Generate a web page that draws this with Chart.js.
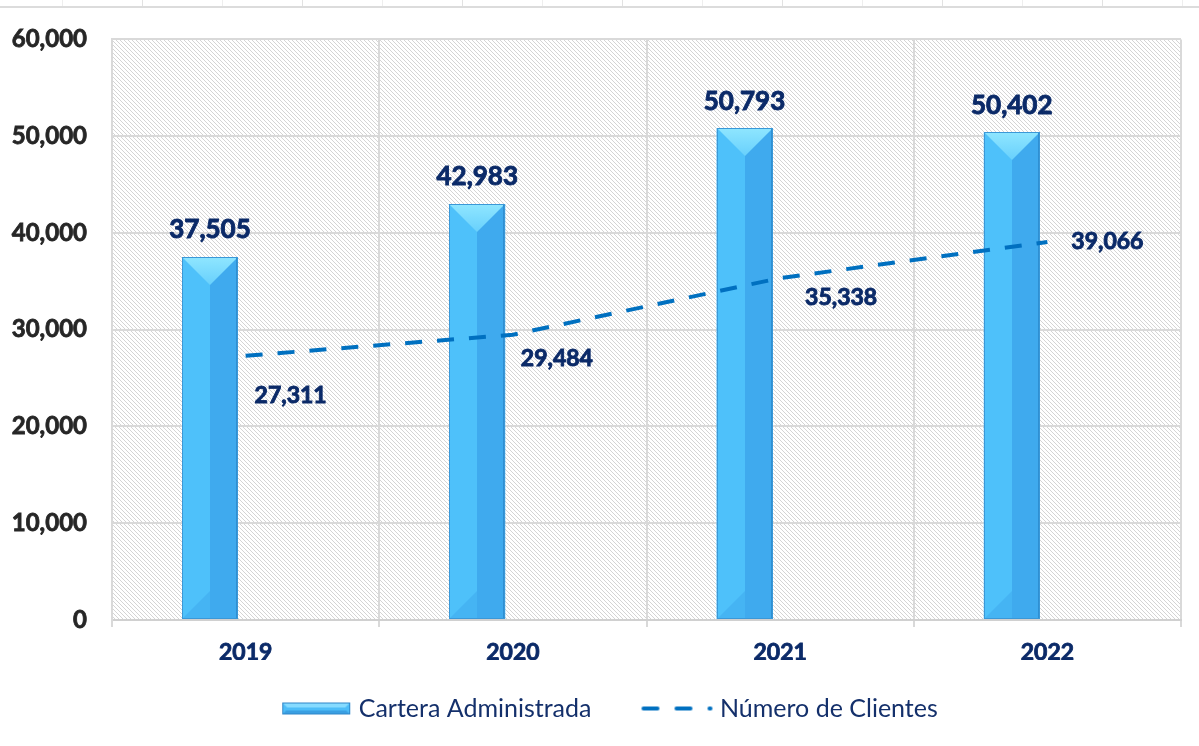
<!DOCTYPE html>
<html><head><meta charset="utf-8">
<script src="https://cdn.jsdelivr.net/npm/chart.js@4.4.0/dist/chart.umd.min.js"></script>
<style>html,body{margin:0;padding:0;background:#fff}#wrap{width:1199px;height:746px;position:relative}</style>
</head><body><div id="wrap"><canvas id="c" width="1199" height="746"></canvas></div>
<script>
// ---- data ----
const categories = ['2019', '2020', '2021', '2022'];
const carteraAdministrada = [37505, 42983, 50793, 50402];
const numeroClientes = [27311, 29484, 35338, 39066];
const yTickValues = [0, 10000, 20000, 30000, 40000, 50000, 60000];
const seriesNames = ['Cartera Administrada', 'Número de Clientes'];

const fmt = v => Number(v).toLocaleString('en-US');
const NAVY = '#0B2A68';

// hatch pattern for plot area
function makeHatch() {
  const c = document.createElement('canvas'); c.width = 8; c.height = 8;
  const g = c.getContext('2d'); const img = g.createImageData(8, 8);
  for (let y = 0; y < 8; y++) for (let x = 0; x < 8; x++) {
    const i = (y * 8 + x) * 4; const on = ((x - y + 8) % 4 === 0);
    const v = on ? 212 : 255;
    img.data[i] = v; img.data[i + 1] = v; img.data[i + 2] = v; img.data[i + 3] = 255;
  }
  g.putImageData(img, 0, 0); return c;
}
const hatch = makeHatch();

function poly(ctx, pts, fill) {
  ctx.beginPath(); ctx.moveTo(pts[0][0], pts[0][1]);
  for (let i = 1; i < pts.length; i++) ctx.lineTo(pts[i][0], pts[i][1]);
  ctx.closePath(); ctx.fillStyle = fill; ctx.fill();
}

function drawBevelBar(ctx, x0, x1, yt, yb) {
  const w = x1 - x0, xm = (x0 + x1) / 2, d = Math.min(w / 2, (yb - yt) / 2);
  ctx.fillStyle = '#4EC1FA'; ctx.fillRect(x0, yt, xm - x0, yb - yt);
  ctx.fillStyle = '#3FAAEE'; ctx.fillRect(xm, yt, x1 - xm, yb - yt);
  poly(ctx, [[x0, yb], [xm, yb - d], [xm, yb]], '#45B4F3');
  const gr = ctx.createLinearGradient(0, yt, 0, yt + d);
  gr.addColorStop(0, '#8FE6FF'); gr.addColorStop(1, '#68D0FC');
  poly(ctx, [[x0, yt], [x1, yt], [xm, yt + d]], gr);
  ctx.fillStyle = '#2F8FD2'; ctx.fillRect(x1 - 2, yt, 2, yb - yt);
  ctx.strokeStyle = '#3A98D8'; ctx.lineWidth = 1;
  ctx.strokeRect(x0 + 0.5, yt + 0.5, w - 1, yb - yt - 1);
}

// legend swatches
const BOXW = 80, EXT = 6;
function makeBarSwatch() {
  const c = document.createElement('canvas'); c.width = BOXW + 2 * EXT; c.height = 16;
  const g = c.getContext('2d');
  const x1 = BOXW + EXT + 4, x0 = x1 - 68, y0 = 2, y1 = 14;
  g.fillStyle = '#4DBDF8'; g.fillRect(x0, y0, x1 - x0, y1 - y0);
  poly(g, [[x0, y0], [x1, y0], [x1 - 5, y0 + 5], [x0 + 5, y0 + 5]], '#86DBFF');
  poly(g, [[x0, y1], [x1, y1], [x1 - 4, y1 - 4], [x0 + 4, y1 - 4]], '#3A9FE2');
  g.strokeStyle = '#2F86C8'; g.lineWidth = 1; g.strokeRect(x0 + 0.5, y0 + 0.5, x1 - x0 - 1, y1 - y0 - 1);
  return c;
}
function makeDashSwatch() {
  const c = document.createElement('canvas'); c.width = BOXW + 2 * EXT; c.height = 16;
  const g = c.getContext('2d');
  const x1 = BOXW + EXT + 5, x0 = x1 - 71;
  g.fillStyle = '#0070C0';
  const r = (x, w) => { g.beginPath(); g.roundRect ? g.roundRect(x, 6, w, 4, 2) : g.rect(x, 6, w, 4); g.fill(); };
  r(x0, 18); r(x0 + 33, 18); r(x0 + 66, 5);
  return c;
}
const barSwatch = makeBarSwatch();
const dashSwatch = makeDashSwatch();

const bgPlugin = {
  id: 'bg',
  afterLayout(chart) {
    // shift the centred legend slightly right, as in the reference
    if (chart.legend) { chart.legend.left += 23; chart.legend.width -= 23; }
  },
  beforeDraw(chart) {
    const { ctx, chartArea: a } = chart;
    ctx.save();
    ctx.fillStyle = '#fff'; ctx.fillRect(0, 0, chart.width, chart.height);
    ctx.strokeStyle = '#DCDCDC'; ctx.lineWidth = 2;
    ctx.beginPath(); ctx.moveTo(0, 7); ctx.lineTo(chart.width, 7); ctx.stroke();
    ctx.lineWidth = 1;
    for (let x = 62, k = 0; x < chart.width; x += 80, k++) {
      ctx.strokeStyle = k % 2 ? '#E2E2E2' : '#EEEEEE';
      ctx.beginPath(); ctx.moveTo(x + 0.5, 0); ctx.lineTo(x + 0.5, 6); ctx.stroke();
    }
    ctx.fillStyle = ctx.createPattern(hatch, 'repeat');
    ctx.fillRect(a.left, a.top, a.width, a.height);
    ctx.restore();
  }
};

const bevelPlugin = {
  id: 'bevel',
  afterDatasetDraw(chart, args) {
    if (args.index !== 0) return;
    const ctx = chart.ctx; ctx.save();
    args.meta.data.forEach(el => {
      const p = el.getProps(['x', 'y', 'base', 'width'], true);
      drawBevelBar(ctx, Math.round(p.x - p.width / 2), Math.round(p.x + p.width / 2), Math.round(p.y), Math.round(p.base));
    });
    ctx.restore();
  }
};

function boldText(ctx, t, x, y) {
  ctx.fillText(t, x, y); ctx.strokeText(t, x, y);
}

const labelPlugin = {
  id: 'vlabels',
  afterDatasetsDraw(chart, args, opts) {
    const ctx = chart.ctx; ctx.save();
    ctx.fillStyle = NAVY; ctx.strokeStyle = NAVY; ctx.lineWidth = 0.9;
    ctx.textAlign = 'center'; ctx.textBaseline = 'middle';
    ctx.font = 'bold 26px Lato';
    chart.getDatasetMeta(0).data.forEach((el, i) => {
      boldText(ctx, fmt(carteraAdministrada[i]), el.x, el.y - opts.barGap);
    });
    ctx.font = 'bold 23px Lato';
    chart.getDatasetMeta(2).data.forEach((el, i) => {
      const o = opts.lineOffsets[i];
      boldText(ctx, fmt(numeroClientes[i]), el.x + o[0], el.y + o[1]);
    });
    ctx.restore();
  }
};

const GRID = '#D9D9D9';
new Chart(document.getElementById('c'), {
  data: {
    labels: categories,
    datasets: [
      { type: 'bar', label: seriesNames[0], data: carteraAdministrada, backgroundColor: '#48B9F6', borderWidth: 0,
        barPercentage: 0.786, categoryPercentage: 0.533, order: 2 },
      { type: 'bar', label: '', data: [null, null, null, null], backgroundColor: 'transparent',
        barPercentage: 0.786, categoryPercentage: 0.533, order: 3 },
      { type: 'line', label: seriesNames[1], data: numeroClientes, borderColor: '#0070C0', borderWidth: 4,
        borderDash: [17, 15], pointRadius: 0, pointHoverRadius: 0, fill: false, tension: 0, order: 1 }
    ]
  },
  options: {
    responsive: false, animation: false, devicePixelRatio: 1,
    layout: { padding: { top: 38, right: 18, bottom: 15, left: 0 } },
    scales: {
      x: {
        grid: { color: GRID, lineWidth: 2, drawTicks: true, tickLength: 7, offset: true },
        border: { color: '#D0D0D0', width: 2 },
        ticks: { color: NAVY, font: { family: 'Lato', weight: 'bold', size: 23 }, padding: 12,
          textStrokeColor: NAVY, textStrokeWidth: 0.8 },
        afterFit(s) { s.height = 40; }
      },
      y: {
        min: 0, max: 60000,
        grid: { color: GRID, lineWidth: 2, drawTicks: false },
        border: { color: GRID, width: 2 },
        ticks: { color: '#262626', font: { family: 'Lato', weight: 'bold', size: 24 }, padding: 25,
          textStrokeColor: '#262626', textStrokeWidth: 0.8,
          callback: v => fmt(v) },
        afterBuildTicks(s) { s.ticks = yTickValues.map(v => ({ value: v })); },
        afterFit(s) { s.width = 112; }
      }
    },
    plugins: {
      tooltip: { enabled: false },
      legend: {
        position: 'bottom',
        labels: {
          usePointStyle: true, pointStyleWidth: BOXW, boxHeight: 16, padding: 36,
          color: '#14306B', font: { family: 'Lato', size: 25 },
          generateLabels: () => [
            { text: seriesNames[0], pointStyle: barSwatch, fillStyle: 'transparent', strokeStyle: 'transparent', lineWidth: 0, fontColor: '#14306B', datasetIndex: 0, hidden: false },
            { text: seriesNames[1], pointStyle: dashSwatch, fillStyle: 'transparent', strokeStyle: 'transparent', lineWidth: 0, fontColor: '#14306B', datasetIndex: 2, hidden: false }
          ]
        }
      },
      vlabels: { barGap: 27, lineOffsets: [[45, 40], [44, 24], [61, 20], [60, 0]] }
    }
  },
  plugins: [bgPlugin, bevelPlugin, labelPlugin]
});
</script>
</body></html>
